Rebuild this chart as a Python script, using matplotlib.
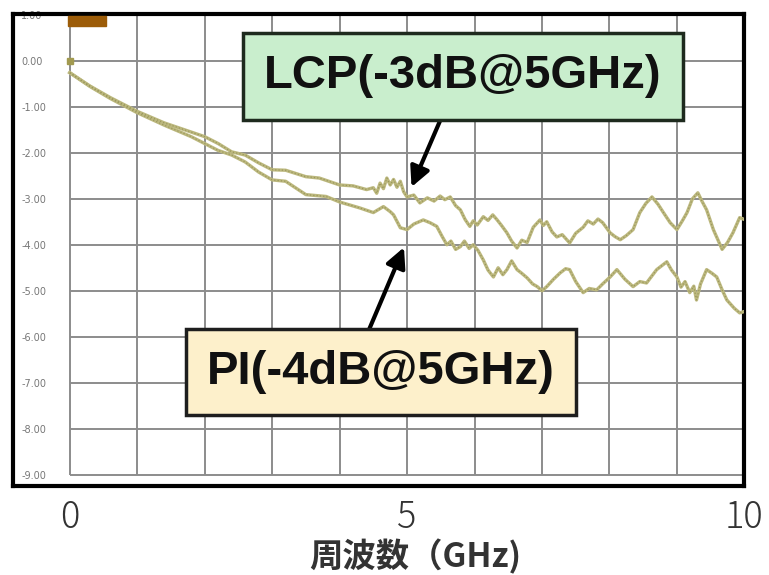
import matplotlib
matplotlib.use("Agg")
import matplotlib.pyplot as plt
from matplotlib.patches import Rectangle

# (GHz, dB)
lcp_freq = [0.0, 0.3, 0.6, 1.0, 1.4, 1.8, 2.0, 2.2, 2.4, 2.6,
            2.8, 3.0, 3.2, 3.5, 3.7, 4.0, 4.2, 4.4, 4.5, 4.55,
            4.6, 4.65, 4.7, 4.75, 4.8, 4.85, 4.9, 4.95, 5.0, 5.1,
            5.19, 5.3, 5.4, 5.49, 5.56, 5.64, 5.72, 5.79, 5.86, 5.93,
            5.98, 6.04, 6.13, 6.2, 6.27, 6.33, 6.4, 6.48, 6.55, 6.63,
            6.7, 6.78, 6.87, 6.97, 7.02, 7.07, 7.15, 7.22, 7.3, 7.41,
            7.5, 7.61, 7.68, 7.76, 7.83, 7.9, 8.01, 8.08, 8.16, 8.25,
            8.35, 8.45, 8.54, 8.63, 8.72, 8.8, 8.9, 9.0, 9.08, 9.15,
            9.23, 9.31, 9.37, 9.44, 9.54, 9.67, 9.75, 9.83, 9.93, 10.0]
lcp_db = [-0.26, -0.55, -0.80, -1.10, -1.35, -1.55, -1.65, -1.80, -1.98, -2.05,
          -2.22, -2.37, -2.38, -2.52, -2.55, -2.70, -2.72, -2.80, -2.76, -2.88,
          -2.66, -2.78, -2.55, -2.70, -2.58, -2.75, -2.62, -2.85, -2.96, -2.92,
          -3.09, -2.98, -3.05, -2.94, -3.02, -2.96, -3.15, -3.24, -3.45, -3.60,
          -3.48, -3.57, -3.39, -3.47, -3.35, -3.45, -3.58, -3.74, -3.92, -4.07,
          -3.90, -3.95, -3.62, -3.46, -3.58, -3.50, -3.72, -3.83, -3.78, -3.96,
          -3.75, -3.62, -3.48, -3.55, -3.44, -3.52, -3.74, -3.82, -3.89, -3.80,
          -3.67, -3.30, -3.10, -2.96, -3.12, -3.30, -3.52, -3.67, -3.48, -3.30,
          -3.00, -2.87, -3.05, -3.24, -3.67, -4.10, -3.95, -3.74, -3.41, -3.45]

pi_freq = [0.0, 0.3, 0.6, 1.0, 1.4, 1.8, 2.0, 2.2, 2.4, 2.6,
           2.8, 3.0, 3.2, 3.5, 3.8, 4.0, 4.3, 4.5, 4.65, 4.75,
           4.8, 4.9, 5.0, 5.1, 5.24, 5.34, 5.44, 5.52, 5.59, 5.65,
           5.72, 5.79, 5.85, 5.92, 5.98, 6.05, 6.13, 6.2, 6.28, 6.35,
           6.42, 6.48, 6.55, 6.63, 6.7, 6.78, 6.86, 6.93, 7.0, 7.07,
           7.17, 7.27, 7.35, 7.41, 7.5, 7.61, 7.7, 7.81, 7.9, 8.01,
           8.11, 8.23, 8.35, 8.45, 8.55, 8.7, 8.85, 8.92, 9.0, 9.06,
           9.12, 9.19, 9.25, 9.29, 9.35, 9.44, 9.52, 9.59, 9.67, 9.74,
           9.85, 9.93, 10.0]
pi_db = [-0.26, -0.56, -0.82, -1.13, -1.40, -1.65, -1.80, -1.95, -2.05, -2.20,
         -2.42, -2.59, -2.62, -2.91, -2.95, -3.07, -3.20, -3.30, -3.17, -3.28,
         -3.35, -3.63, -3.67, -3.55, -3.46, -3.52, -3.60, -3.82, -4.00, -3.92,
         -4.10, -4.04, -3.92, -4.08, -4.00, -4.12, -4.33, -4.55, -4.70, -4.50,
         -4.65, -4.54, -4.35, -4.54, -4.62, -4.72, -4.85, -4.91, -5.00, -4.91,
         -4.75, -4.61, -4.52, -4.54, -4.80, -5.04, -4.95, -4.98, -4.85, -4.70,
         -4.54, -4.75, -4.91, -4.80, -4.83, -4.54, -4.37, -4.55, -4.70, -4.92,
         -4.80, -5.04, -4.90, -5.20, -4.85, -4.54, -4.62, -4.70, -4.98, -5.20,
         -5.38, -5.48, -5.45]

start_freq = [0.0]
start_db = [0.0]

y_ticks = [1, 0, -1, -2, -3, -4, -5, -6, -7, -8, -9]
y_labels = ["1.00", "0.00", "-1.00", "-2.00", "-3.00", "-4.00", "-5.00",
            "-6.00", "-7.00", "-8.00", "-9.00"]
x_grid = list(range(0, 11))
x_ticks = [0, 5, 10]

fig = plt.figure(figsize=(7.69, 5.75), dpi=100)
ax = fig.add_axes([0.017, 0.155, 0.951, 0.821])
ax.set_xlim(-0.84, 10.0)
ax.set_ylim(-9.24, 1.02)

# grid only inside the plotting region
ax.hlines(y_ticks, 0, 10, color="#8c8c8c", lw=1.4, zorder=1)
ax.vlines(x_grid, -9, 1.02, color="#8c8c8c", lw=1.4, zorder=1)

line_c = "#bcb87e"
ax.plot(lcp_freq, lcp_db, color=line_c, lw=2.4, zorder=3)
ax.plot(pi_freq, pi_db, color=line_c, lw=2.4, zorder=3)
ax.plot(lcp_freq, lcp_db, color="#9a975c", lw=0.9, ls=":", zorder=4)
ax.plot(pi_freq, pi_db, color="#9a975c", lw=0.9, ls=":", zorder=4)
ax.plot(start_freq, start_db, "s", color="#a29a50", ms=4, zorder=5)

# small marker label at top left
ax.add_patch(Rectangle((-0.02, 0.75), 0.56, 0.22, color="#9c5c08", zorder=5))

for s in ax.spines.values():
    s.set_linewidth(3)
    s.set_color("black")

ax.set_yticks(y_ticks)
ax.set_yticklabels(y_labels)
ax.tick_params(axis="y", length=0, pad=-6, labelsize=7, labelcolor="#777777")
for lbl in ax.get_yticklabels():
    lbl.set_horizontalalignment("left")

ax.set_xticks(x_ticks)
ax.set_xticklabels([str(t) for t in x_ticks])
ax.tick_params(axis="x", length=0, pad=9, labelsize=26, labelcolor="#333333")
for lbl in ax.get_xticklabels():
    lbl.set_family(["Noto Sans CJK JP", "DejaVu Sans"])
    lbl.set_fontweight("light")

fig.text(0.54, 0.032, "周波数（GHz)", ha="center", va="center", fontsize=24,
         fontweight="bold", color="#333333", family=["Noto Sans CJK JP", "DejaVu Sans"])

# annotations
ax.text(5.83, -0.34, "LCP(-3dB@5GHz)", ha="center", va="center", fontsize=34,
        fontweight="bold", family="Liberation Sans", color="#111111", zorder=7,
        bbox=dict(boxstyle="square,pad=0.45", fc="#c9eecd", ec="#1e2a1e", lw=2.5))
ax.text(4.61, -6.76, "PI(-4dB@5GHz)", ha="center", va="center", fontsize=34,
        fontweight="bold", family="Liberation Sans", color="#111111", zorder=7,
        bbox=dict(boxstyle="square,pad=0.45", fc="#fdf0cb", ec="#1e1e1e", lw=2.5))

ax.annotate("", xy=(5.05, -2.8), xytext=(5.52, -1.2), zorder=6,
            arrowprops=dict(arrowstyle="-|>", lw=3, color="black", mutation_scale=30))
ax.annotate("", xy=(4.97, -4.0), xytext=(4.42, -5.9), zorder=6,
            arrowprops=dict(arrowstyle="-|>", lw=3, color="black", mutation_scale=30))

fig.savefig("out.png", dpi=100, facecolor="white")
